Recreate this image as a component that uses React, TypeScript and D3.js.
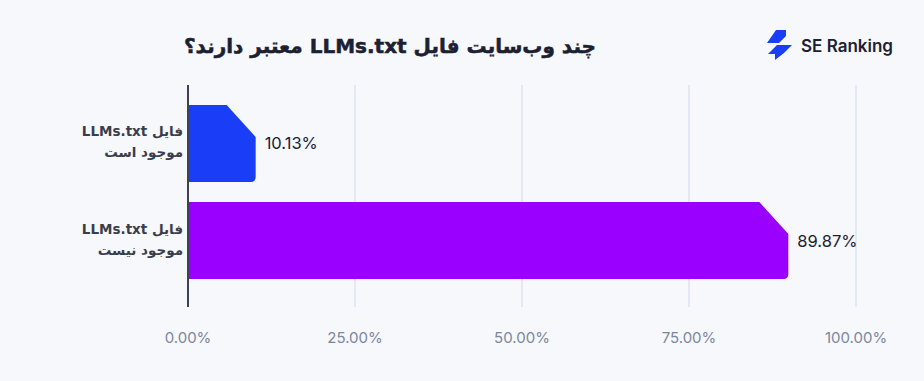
import React from "react";
import * as d3 from "d3";

const categories = ["exists", "missing"];
const labelLine1 = ["فایل LLMs.txt", "فایل LLMs.txt"];
const labelLine2 = ["موجود است", "موجود نیست"];
const values = [10.13, 89.87];
const barColors = ["#1a3df7", "#9900ff"];
const ticks = [0, 25, 50, 75, 100];
const title = "چند وب‌سایت فایل LLMs.txt معتبر دارند؟";

const W = 924;
const H = 381;

export default function App() {
  const x = d3.scaleLinear().domain([0, 100]).range([188, 856]);
  const y = d3.scaleBand().domain(categories).range([85, 299]).paddingInner(0.206).paddingOuter(0.206);
  const persian = "'DejaVu Sans', 'Noto Sans', sans-serif";
  const latin = "Inter, 'DejaVu Sans', sans-serif";

  const barPath = (v: number, cat: string) => {
    const x0 = x(0);
    const x1 = x(v);
    const y0 = y(cat) as number;
    const y1 = y0 + y.bandwidth();
    const cx = 29;
    const cy = 32;
    const r = 5;
    return `M${x0},${y0} H${x1 - cx} L${x1},${y0 + cy} V${y1 - r} Q${x1},${y1} ${x1 - r},${y1} H${x0} Z`;
  };

  return (
    <svg width={W} height={H} style={{ display: "block", position: "absolute", left: 0, top: 0 }}>
      <rect x={0} y={0} width={W} height={H} fill="#f6f8fc" />
      <text
        x={390}
        y={53}
        direction="rtl"
        textAnchor="middle"
        fontFamily={persian}
        fontWeight="bold"
        fontSize={20}
        fill="#1c2033"
        stroke="#1c2033"
        strokeWidth={0.5}
      >
        {title}
      </text>
      {/* logo */}
      <g fill="#1a3df7">
        <path d="M776,30 H786 V36 L779,43 H767 Z" />
        <path d="M777,45 H792 L784,53 L775,60 V54 H768 Z" />
      </g>
      <text x={801} y={52} fontFamily={latin} fontWeight={600} fontSize={17} fill="#1c2033">
        SE Ranking
      </text>
      {ticks.slice(1).map((t) => (
        <line key={t} x1={x(t)} x2={x(t)} y1={85} y2={307} stroke="#dde4f0" strokeWidth={1.5} />
      ))}
      {categories.map((c, i) => (
        <path key={c} d={barPath(values[i], c)} fill={barColors[i]} />
      ))}
      <line x1={x(0)} x2={x(0)} y1={85} y2={307} stroke="#3b4252" strokeWidth={2} />
      {categories.map((c, i) => {
        const cy = (y(c) as number) + y.bandwidth() / 2;
        return (
          <g key={c}>
            <text
              x={x(values[i]) + 9}
              y={cy + 6}
              fontFamily={latin}
              fontSize={16.5}
              fill="#1c2033"
            >
              {values[i].toFixed(2)}%
            </text>
            <text
              x={183}
              y={cy - 7}
              direction="rtl"
              textAnchor="start"
              fontFamily={persian}
              fontWeight="bold"
              fontSize={13.5}
              fill="#3a3d4a"
            >
              {labelLine1[i]}
            </text>
            <text
              x={183}
              y={cy + 14}
              direction="rtl"
              textAnchor="start"
              fontFamily={persian}
              fontWeight="bold"
              fontSize={13.5}
              fill="#3a3d4a"
            >
              {labelLine2[i]}
            </text>
          </g>
        );
      })}
      {ticks.map((t) => (
        <text
          key={t}
          x={x(t)}
          y={343}
          textAnchor="middle"
          fontFamily={latin}
          fontSize={15}
          fill="#7b879c"
        >
          {t.toFixed(2)}%
        </text>
      ))}
    </svg>
  );
}
